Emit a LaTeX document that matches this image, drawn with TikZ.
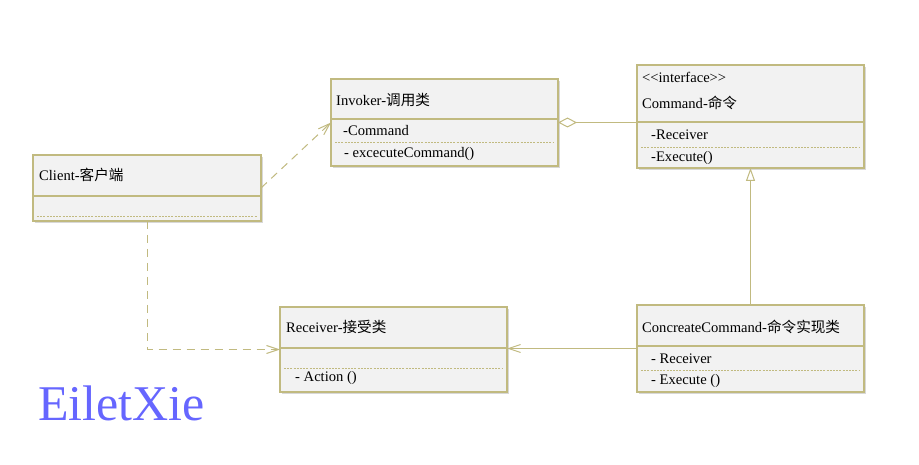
\documentclass[tikz,border=0pt]{standalone}
\usepackage{fontspec}
\setmainfont{Liberation Serif}
\newfontfamily\cjk{Noto Sans CJK SC}
\usepackage{tikz}
\usetikzlibrary{arrows.meta,shadows}

\definecolor{umlborder}{RGB}{193,186,128}
\definecolor{umlfill}{RGB}{242,242,242}
\definecolor{umlmark}{RGB}{102,102,255}

\tikzset{
  classbox/.style={draw=umlborder, line width=1.6pt, fill=umlfill, anchor=north west,
    inner sep=0pt, outer sep=0pt,
    drop shadow={shadow xshift=2pt, shadow yshift=-2pt, opacity=.3, fill=gray}},
  sepline/.style={draw=umlborder, line width=1.6pt},
  memberline/.style={draw=umlborder, line width=.7pt, dash pattern=on 2pt off 1.2pt},
  headtext/.style={anchor=west, inner sep=0pt, font=\fontsize{14.6}{16}\selectfont},
  membertext/.style={headtext},
  depline/.style={draw=umlborder, line width=1pt, dash pattern=on 8pt off 6pt,
    -{Straight Barb[length=12pt,width=8pt]}},
  assocline/.style={draw=umlborder, line width=1pt, -{Straight Barb[length=12pt,width=8pt]}},
  aggline/.style={draw=umlborder, line width=1pt, {Diamond[open,length=19pt,width=10pt]}-},
  realizeline/.style={draw=umlborder, line width=1pt, -{Triangle[open,length=13pt,width=9pt]}}
}

\begin{document}
\begin{tikzpicture}[x=1pt,y=-1pt]
    \useasboundingbox[fill=white] (0,0) rectangle (919,465);

    % classes
    \node[classbox, minimum width=228, minimum height=66] (cli) at (33,155) {};
    \node[classbox, minimum width=227, minimum height=87] (inv) at (331,79) {};
    \node[classbox, minimum width=227, minimum height=103] (cmd) at (637,65) {};
    \node[classbox, minimum width=227, minimum height=85] (rcv) at (280,307) {};
    \node[classbox, minimum width=227, minimum height=87] (ccmd) at (637,305) {};

    % compartments
    \draw[sepline] ([yshift=-41pt]cli.north west) -- ([yshift=-41pt]cli.north east);
    \draw[memberline] ([xshift=4pt,yshift=-61pt]cli.north west) -- ([xshift=-4pt,yshift=-61pt]cli.north east);
    \draw[sepline] ([yshift=-40pt]inv.north west) -- ([yshift=-40pt]inv.north east);
    \draw[memberline] ([xshift=4pt,yshift=-63pt]inv.north west) -- ([xshift=-4pt,yshift=-63pt]inv.north east);
    \draw[sepline] ([yshift=-57pt]cmd.north west) -- ([yshift=-57pt]cmd.north east);
    \draw[memberline] ([xshift=4pt,yshift=-82pt]cmd.north west) -- ([xshift=-4pt,yshift=-82pt]cmd.north east);
    \draw[sepline] ([yshift=-41pt]rcv.north west) -- ([yshift=-41pt]rcv.north east);
    \draw[memberline] ([xshift=4pt,yshift=-61pt]rcv.north west) -- ([xshift=-4pt,yshift=-61pt]rcv.north east);
    \draw[sepline] ([yshift=-41pt]ccmd.north west) -- ([yshift=-41pt]ccmd.north east);
    \draw[memberline] ([xshift=4pt,yshift=-65pt]ccmd.north west) -- ([xshift=-4pt,yshift=-65pt]ccmd.north east);

    % texts
    \node[headtext] (cliT) at (39,175) {Client-{\cjk 客户端}};

    \node[headtext] (invT) at (336,100) {Invoker-{\cjk 调用类}};
    \node[membertext] (invA) at (343,131) {-Command};
    \node[membertext] (invM) at (344,154) {- excecuteCommand()};

    \node[headtext] (cmdS) at (642,77) {<\kern0pt<interface>\kern0pt>};
    \node[headtext] (cmdT) at (642,103) {Command-{\cjk 命令}};
    \node[membertext] (cmdA) at (651,135) {-Receiver};
    \node[membertext] (cmdM) at (651,158) {-Execute()};

    \node[headtext] (rcvT) at (286,327) {Receiver-{\cjk 接受类}};
    \node[membertext] (rcvM) at (295,378) {- Action ()};

    \node[headtext] (ccmdT) at (642,327) {ConcreateCommand-{\cjk 命令实现类}};
    \node[membertext] (ccmdA) at (651,359) {- Receiver};
    \node[membertext] (ccmdM) at (651,381) {- Execute ()};

    % relations
    \draw[depline] (cli.east) -- (inv.west);
    \draw[depline] (cli.south) |- (rcv.west);
    \draw[aggline] (inv.east) -- (inv.east -| cmd.west);
    \draw[realizeline] (ccmd.north) -- (cmd.south);
    \draw[assocline] (ccmd.west) -- (ccmd.west -| rcv.east);

    \node[anchor=base west, inner sep=0pt, text=umlmark, font=\fontsize{50}{56}\selectfont] (mark) at (38,420) {EiletXie};
\end{tikzpicture}
\end{document}
